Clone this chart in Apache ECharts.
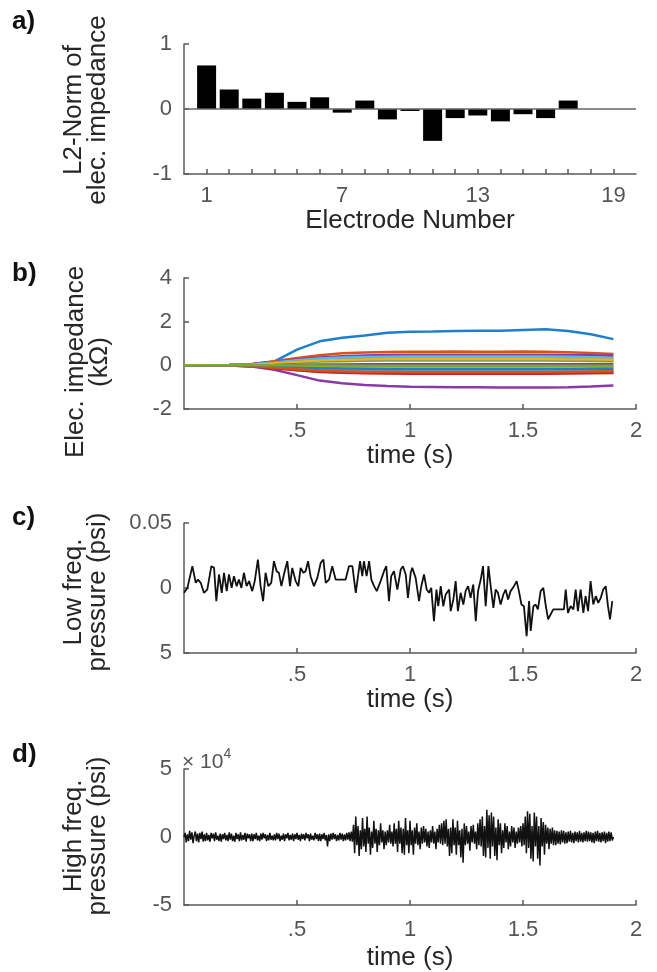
<!DOCTYPE html>
<html>
<head>
<meta charset="utf-8">
<script src="https://cdn.jsdelivr.net/npm/echarts@6/dist/echarts.min.js"></script>
<style>html,body{margin:0;padding:0;background:#fff}#c{width:657px;height:972px}</style>
</head>
<body>
<div id="c"></div>
<script>
// ---------- Panel a data ----------
const electrodes = [1,2,3,4,5,6,7,8,9,10,11,12,13,14,15,16,17,18,19];
const l2Norm = [0.67,0.30,0.16,0.25,0.11,0.18,-0.056,0.13,-0.16,-0.03,-0.49,-0.14,-0.10,-0.19,-0.08,-0.14,0.13,0,0];
const electrodeTickLabels = [1,7,13,19];

// ---------- Panel b data (kOhm) ----------
const timeB = [0,0.1,0.2,0.3,0.4,0.5,0.6,0.7,0.8,0.9,1.0,1.1,1.2,1.3,1.4,1.5,1.6,1.7,1.8,1.9];
const e01 = [0,0,0.01,0.05,0.18,0.72,1.1,1.26,1.37,1.49,1.54,1.55,1.57,1.58,1.58,1.62,1.65,1.57,1.42,1.2];
const e02 = [0,0,0.01,0.06,0.19,0.34,0.46,0.55,0.59,0.61,0.62,0.62,0.63,0.62,0.62,0.63,0.62,0.6,0.57,0.52];
const e03 = [0,0,0.01,0.04,0.12,0.22,0.28,0.31,0.33,0.34,0.35,0.35,0.34,0.35,0.35,0.34,0.35,0.33,0.32,0.31];
const e04 = [0,0,0.01,0.05,0.15,0.27,0.36,0.42,0.45,0.47,0.48,0.48,0.48,0.49,0.48,0.48,0.48,0.47,0.46,0.44];
const e05 = [0,0,0,0.02,0.07,0.13,0.17,0.19,0.21,0.22,0.22,0.22,0.23,0.22,0.22,0.22,0.22,0.21,0.2,0.19];
const e06 = [0,0,0.01,0.04,0.13,0.23,0.31,0.36,0.38,0.39,0.4,0.4,0.4,0.41,0.4,0.4,0.4,0.39,0.37,0.35];
const e07 = [0,0,0,-0.01,-0.04,-0.07,-0.09,-0.1,-0.11,-0.12,-0.12,-0.12,-0.12,-0.12,-0.12,-0.12,-0.12,-0.12,-0.11,-0.11];
const e08 = [0,0,0.01,0.03,0.09,0.16,0.21,0.24,0.26,0.27,0.27,0.27,0.28,0.27,0.27,0.27,0.27,0.26,0.25,0.24];
const e09 = [0,0,-0.01,-0.04,-0.12,-0.21,-0.28,-0.32,-0.34,-0.35,-0.35,-0.35,-0.35,-0.36,-0.35,-0.35,-0.35,-0.34,-0.34,-0.33];
const e10 = [0,0,0,0,-0.02,-0.03,-0.04,-0.05,-0.06,-0.06,-0.06,-0.06,-0.06,-0.06,-0.06,-0.06,-0.06,-0.06,-0.06,-0.05];
const e11 = [0,0,-0.01,-0.05,-0.2,-0.45,-0.7,-0.82,-0.9,-0.95,-0.98,-0.99,-1.0,-1.0,-1.01,-1.02,-1.02,-1.0,-0.97,-0.92];
const e12 = [0,0,-0.01,-0.03,-0.1,-0.18,-0.24,-0.27,-0.29,-0.3,-0.3,-0.3,-0.3,-0.31,-0.3,-0.3,-0.3,-0.3,-0.29,-0.28];
const e13 = [0,0,0,-0.02,-0.07,-0.13,-0.17,-0.2,-0.21,-0.22,-0.22,-0.22,-0.22,-0.22,-0.22,-0.22,-0.22,-0.21,-0.21,-0.2];
const e14 = [0,0,-0.01,-0.04,-0.13,-0.23,-0.3,-0.34,-0.36,-0.37,-0.38,-0.38,-0.38,-0.38,-0.38,-0.38,-0.38,-0.37,-0.36,-0.35];
const e15 = [0,0,0,-0.02,-0.05,-0.1,-0.13,-0.15,-0.16,-0.17,-0.17,-0.17,-0.17,-0.17,-0.17,-0.17,-0.17,-0.17,-0.16,-0.16];
const e16 = [0,0,-0.01,-0.03,-0.1,-0.18,-0.24,-0.27,-0.29,-0.29,-0.3,-0.3,-0.3,-0.3,-0.3,-0.3,-0.3,-0.29,-0.28,-0.27];
const e17 = [0,0,0.01,0.03,0.09,0.16,0.22,0.25,0.27,0.28,0.28,0.28,0.28,0.28,0.28,0.28,0.28,0.27,0.27,0.26];
const e18 = [0,0,0,0,0.01,0.03,0.04,0.04,0.05,0.05,0.05,0.05,0.05,0.05,0.05,0.05,0.05,0.05,0.05,0.05];
const e19 = [0,0,0,0,0,-0.01,-0.01,-0.02,-0.02,-0.02,-0.02,-0.02,-0.02,-0.02,-0.02,-0.02,-0.02,-0.02,-0.02,-0.02];
const impedanceSeries = [e01,e02,e03,e04,e05,e06,e07,e08,e09,e10,e11,e12,e13,e14,e15,e16,e17,e18,e19];
const impTicks = [-2,0,2,4];

// ---------- Panel c data (time in ms, pressure in 1e-3 psi) ----------
const lowTimeMs = [0,15,37,52,62,74,88,103,121,133,143,155,167,177,189,199,211,221,233,243,254,265,277,288,302,313,327,339,350,361,373,386,398,410,420,431,442,457,469,479,494,506,516,528,538,549,560,575,590,605,617,627,642,656,671,715,730,745,760,767,779,789,796,808,819,829,841,853,870,885,895,907,917,929,944,959,969,981,991,1003,1010,1025,1040,1050,1062,1074,1084,1094,1106,1117,1125,1136,1147,1158,1173,1180,1192,1202,1212,1224,1236,1246,1257,1268,1280,1291,1301,1313,1323,1335,1347,1357,1369,1379,1389,1401,1413,1423,1434,1445,1460,1472,1482,1493,1504,1516,1527,1534,1546,1556,1566,1578,1590,1600,1611,1622,1634,1681,1689,1699,1711,1723,1733,1743,1755,1767,1777,1788,1799,1811,1822,1833,1844,1855,1866,1876,1885,1895];
const lowPressure = [-3.7,0.1,16.8,4.0,6.5,4.0,-3.7,-1.2,16.8,15.5,-10.1,10.4,-3.7,11.7,-2.4,10.4,0.1,9.1,1.4,6.5,0.1,11.7,1.4,5.3,-2.4,5.3,21.9,1.4,-10.1,11.7,1.4,4.0,20.6,12.9,11.7,1.4,10.4,20.6,1.4,15.5,5.3,1.4,15.5,11.7,12.9,20.6,9.1,1.4,7.8,19.4,21.9,4.0,6.5,16.8,6.5,6.5,16.8,16.8,-3.7,-2.4,20.6,9.1,20.6,9.1,20.6,6.5,1.4,-2.4,5.3,12.9,16.8,-10.1,9.1,12.9,-1.2,14.2,16.8,10.4,-7.6,11.7,15.5,7.8,-10.1,1.4,10.4,-1.2,-3.7,0.1,-25.5,-1.2,-14.0,1.4,-14.0,-5.0,-1.2,-17.8,-8.8,5.3,-17.8,-3.7,-12.7,-2.4,1.4,-7.6,2.7,-25.5,-2.4,6.5,16.8,-14.0,16.8,1.4,-15.3,-1.2,-3.7,-12.7,-5.0,-1.2,-8.8,-2.4,1.4,5.3,-2.4,-12.7,-14.0,-37.0,-10.1,-33.0,-14.0,-12.7,-16.5,-2.4,0.1,-12.7,-24.2,-20.4,-16.5,-16.5,-1.2,-19.1,-14.0,-16.5,-1.2,-17.8,-1.2,-19.1,-6.3,-17.8,5.3,-12.7,-6.3,-11.4,-7.6,-1.2,1.4,-14.0,-24.2,-10.1];
const lowTicks = [-0.05,0,0.05];
const lowTickLabels = ['5','0','0.05'];

// ---------- Panel d data (pressure in units of 1e4 psi, sampled every 5 ms from 0 s) ----------
const highStart = 0, highStep = 0.005;
const highPressure = [
0,0.3,-0.4,0.2,-0.3,0.45,-0.2,0.35,-0.45,0.1,0.4,-0.3,0.25,-0.4,0.3,-0.15,0.4,-0.35,0.2,-0.3,
0.3,-0.25,0.15,-0.35,0.3,-0.1,0.25,-0.3,0.35,-0.2,0.1,-0.3,0.25,-0.35,0.2,-0.15,0.3,-0.25,0.15,-0.3,
0.35,-0.2,0.25,-0.3,0.1,-0.35,0.3,-0.15,0.2,-0.3,0.35,-0.25,0.15,-0.2,0.3,-0.35,0.25,-0.1,0.2,-0.3,
0.25,-0.3,0.2,-0.15,0.3,-0.25,0.1,-0.3,0.25,-0.2,0.3,-0.1,0.2,-0.3,0.15,-0.25,0.3,-0.2,0.1,-0.25,
0.2,-0.25,0.3,-0.15,0.25,-0.3,0.1,-0.2,0.25,-0.3,0.2,-0.1,0.3,-0.25,0.15,-0.2,0.25,-0.3,0.2,-0.15,
0.3,-0.2,0.15,-0.3,0.25,-0.15,0.2,-0.25,0.3,-0.1,0.2,-0.3,0.25,-0.2,0.1,-0.25,0.3,-0.15,0.2,-0.3,
0.25,-0.3,0.2,-0.15,0.3,-0.25,0.15,-0.7,0.2,-0.3,0.25,-0.2,0.3,-0.15,0.2,-0.3,0.15,-0.25,0.3,-0.2,
0.25,-0.3,0.2,-0.25,0.3,-0.2,0.35,-0.3,0.4,-0.35,0.9,-1.2,1.5,-0.6,0.8,-1.4,0.5,-0.9,1.4,-0.7,
0.6,-1.1,1.5,-0.5,0.7,-1.3,0.4,-0.8,1.2,-0.5,0.6,-1.1,0.5,-0.6,1.0,-0.4,0.5,-0.9,0.4,-0.6,
0.5,-0.4,0.9,-0.5,0.4,-0.7,1.0,-0.5,0.6,-1.1,1.2,-0.5,0.7,-1.2,0.6,-1.3,1.4,-0.6,0.5,-1.2,
1.2,-0.6,0.5,-1.3,0.7,-0.5,1.0,-0.6,0.4,-0.9,0.7,-0.5,0.8,-0.4,0.6,-0.7,0.4,-0.8,0.5,-0.4,
0.8,-0.5,0.4,-0.9,0.6,-0.4,0.9,-0.5,1.0,-0.6,1.2,-0.5,1.3,-0.7,0.6,-1.4,0.7,-1.2,1.3,-0.6,
0.7,-1.3,1.2,-0.6,0.5,-1.5,0.6,-1.9,1.0,-0.6,0.8,-0.5,0.4,-1.0,0.8,-0.4,0.9,-0.5,0.4,-0.9,
1.0,-0.6,1.3,-0.7,1.5,-1.4,0.8,-1.5,2.0,-0.8,1.6,-1.6,1.8,-0.7,1.5,-1.4,0.7,-1.7,1.3,-0.6,
1.0,-1.2,0.5,-0.8,1.0,-0.4,0.8,-0.9,0.4,-0.7,0.8,-0.4,0.7,-0.8,0.4,-0.5,0.7,-0.4,0.8,-0.7,
1.0,-0.6,1.5,-1.2,1.9,-0.8,1.7,-1.6,0.8,-1.8,1.8,-0.7,1.5,-1.6,0.8,-2.1,1.4,-0.7,1.1,-1.3,
0.9,-0.5,0.7,-0.9,0.6,-0.5,0.7,-0.6,0.5,-0.6,0.45,-0.5,0.4,-0.55,0.5,-0.4,0.45,-0.5,0.35,-0.45,
0.4,-0.35,0.45,-0.4,0.3,-0.45,0.4,-0.3,0.35,-0.4,0.45,-0.35,0.3,-0.4,0.35,-0.3,0.45,-0.35,0.4,-0.3,
0.35,-0.4,0.3,-0.45,0.4,-0.3,0.45,-0.35,0.3,-0.4,0.35,-0.3,0.4,-0.45,0.3,-0.35,0.4,-0.3,0.35,-0.25,
0];
const highTicks = [-5,0,5];

const timeTickValues = [0.5,1,1.5,2];
const timeTickLabels = ['.5','1','1.5','2'];

// ---------- styling ----------
const FONT = 'Liberation Sans, Arial, Helvetica, sans-serif';
const AX = '#5a5a5a';
const matlabColors = ['#1f7fcc','#D95319','#EDB120','#8a3aa6','#77AC30','#4DBEEE','#c0282f'];

function axisBase(){
  return {
    axisLine:{show:true, onZero:false, lineStyle:{color:AX, width:1.5}},
    axisTick:{show:true, inside:true, length:5, lineStyle:{color:AX, width:1.5}},
    axisLabel:{color:'#555', fontSize:22, fontFamily:FONT},
    splitLine:{show:false},
    nameTextStyle:{color:'#262626', fontSize:26, fontFamily:FONT}
  };
}
function timeAxis(gi, gap, margin){
  const a = axisBase();
  return Object.assign(a, {
    type:'value', gridIndex:gi, min:0, max:2, name:'time (s)', nameLocation:'middle', nameGap:gap,
    axisTick:Object.assign(a.axisTick, {customValues:timeTickValues}),
    axisLabel:Object.assign(a.axisLabel, {customValues:timeTickValues, margin:margin,
      formatter:(v)=>{const i=timeTickValues.indexOf(v); return i>=0?timeTickLabels[i]:'';}})
  });
}
function yAxisOf(gi, min, max, ticks, labels){
  const a = axisBase();
  return Object.assign(a, {
    type:'value', gridIndex:gi, min:min, max:max,
    axisTick:Object.assign(a.axisTick, {customValues:ticks}),
    axisLabel:Object.assign(a.axisLabel, {customValues:ticks, margin:12,
      formatter:(v)=>{const i=ticks.indexOf(v); return i>=0?String(labels[i]):'';}})
  });
}
function yTitle(text, cx, cy){
  return {type:'text', x:cx, y:cy, rotation:Math.PI/2,
    style:{text:text, font:'26px '+FONT, fill:'#262626', align:'center', verticalAlign:'middle', lineHeight:24}};
}

const xA = axisBase();
const xAxisA = Object.assign(xA, {
  type:'value', gridIndex:0, min:0, max:20, name:'Electrode Number', nameLocation:'middle', nameGap:34,
  axisTick:Object.assign(xA.axisTick, {customValues:electrodes}),
  axisLabel:Object.assign(xA.axisLabel, {customValues:electrodeTickLabels, margin:11})
});

const series = [];
series.push({
  type:'bar', xAxisIndex:0, yAxisIndex:0, barWidth:19,
  data: electrodes.map((e,i)=>[e, l2Norm[i]]),
  itemStyle:{color:'#000'},
  markLine:{silent:true, symbol:['none','none'], label:{show:false},
    lineStyle:{color:'#666', width:1.5, type:'solid'}, data:[{yAxis:0}]}
});
impedanceSeries.forEach((arr, k)=>{
  series.push({
    type:'line', xAxisIndex:1, yAxisIndex:1, showSymbol:false, symbol:'none',
    data: timeB.map((t,i)=>[t, arr[i]]),
    lineStyle:{width:2.5, color:matlabColors[k % 7]}, itemStyle:{color:matlabColors[k % 7]}
  });
});
series.push({
  type:'line', xAxisIndex:2, yAxisIndex:2, showSymbol:false, symbol:'none',
  data: lowTimeMs.map((t,i)=>[t/1000, lowPressure[i]/1000]),
  lineStyle:{width:1.8, color:'#111'}
});
series.push({
  type:'line', xAxisIndex:3, yAxisIndex:3, showSymbol:false, symbol:'none',
  data: highPressure.map((v,i)=>[highStart + i*highStep, v]),
  lineStyle:{width:1.5, color:'#111'}
});

const option = {
  animation:false,
  backgroundColor:'#fff',
  grid:[
    {left:184, top:44, width:452, height:130},
    {left:184, top:278, width:452, height:131},
    {left:184, top:523, width:452, height:130},
    {left:184, top:769, width:452, height:138}
  ],
  xAxis:[ xAxisA, timeAxis(1,34,11), timeAxis(2,31,11), timeAxis(3,40,14) ],
  yAxis:[
    yAxisOf(0,-1,1,[-1,0,1],['-1','0','1']),
    yAxisOf(1,-2,4,impTicks,impTicks),
    yAxisOf(2,-0.05,0.05,lowTicks,lowTickLabels),
    yAxisOf(3,-5,5,highTicks,highTicks)
  ],
  graphic:[
    yTitle('L2-Norm of\nelec. impedance', 86, 110),
    yTitle('Elec. impedance\n(kΩ)', 88, 362),
    yTitle('Low freq.\npressure (psi)', 86, 592),
    yTitle('High freq.\npressure (psi)', 86, 836),
    {type:'text', left:12, top:9, style:{text:'a)', font:'bold 26px '+FONT, fill:'#111'}},
    {type:'text', left:12, top:261, style:{text:'b)', font:'bold 26px '+FONT, fill:'#111'}},
    {type:'text', left:12, top:505, style:{text:'c)', font:'bold 26px '+FONT, fill:'#111'}},
    {type:'text', left:12, top:742, style:{text:'d)', font:'bold 26px '+FONT, fill:'#111'}},
    {type:'text', left:182, top:747, style:{
      text:'{a|× 10}{s|4}',
      rich:{a:{fontSize:21, fontFamily:FONT, fill:'#555', verticalAlign:'bottom'},
            s:{fontSize:14, fontFamily:FONT, fill:'#555', verticalAlign:'top', padding:[0,0,12,0]}}}}
  ],
  series:series
};
const chart = echarts.init(document.getElementById('c'), null, {renderer:'canvas'});
chart.setOption(option);
</script>
</body>
</html>
